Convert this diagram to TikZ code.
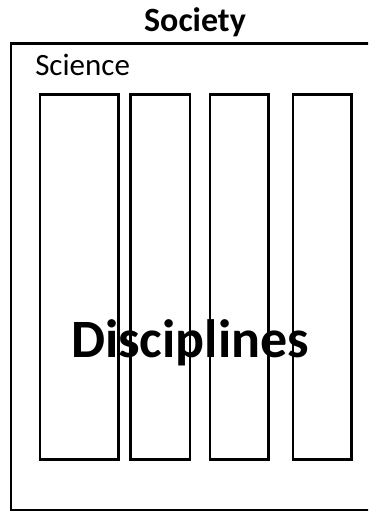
\documentclass[tikz,border=0pt]{standalone}
\usepackage{fontspec}
\setmainfont{Carlito}
\begin{document}
\begin{tikzpicture}[x = 1pt, y = -1pt, line width = 2.5pt]
\useasboundingbox (0,0) rectangle (368,512);
\begin{scope}
\clip (0,0) rectangle (368,512);
\draw (11,43.3) rectangle (380,510);
\end{scope}
\node[font = \bfseries\fontsize{34}{40}\selectfont, anchor = base, inner sep = 0pt] (society) at (195,31) {Society};
\node[font = \fontsize{31}{36}\selectfont, anchor = base west, inner sep = 0pt] (science) at (34,75) {Science};
\foreach \left / \right in {40/118.7,130.5/190,210/268.3,293/351.7}
{
	\draw (\left,94.3) rectangle (\right,459.3);
}
\node[font = \bfseries\fontsize{54}{60}\selectfont, anchor = base, inner sep = 0pt] (disciplines) at (190,357) {Disciplines};
\end{tikzpicture}
\end{document}
